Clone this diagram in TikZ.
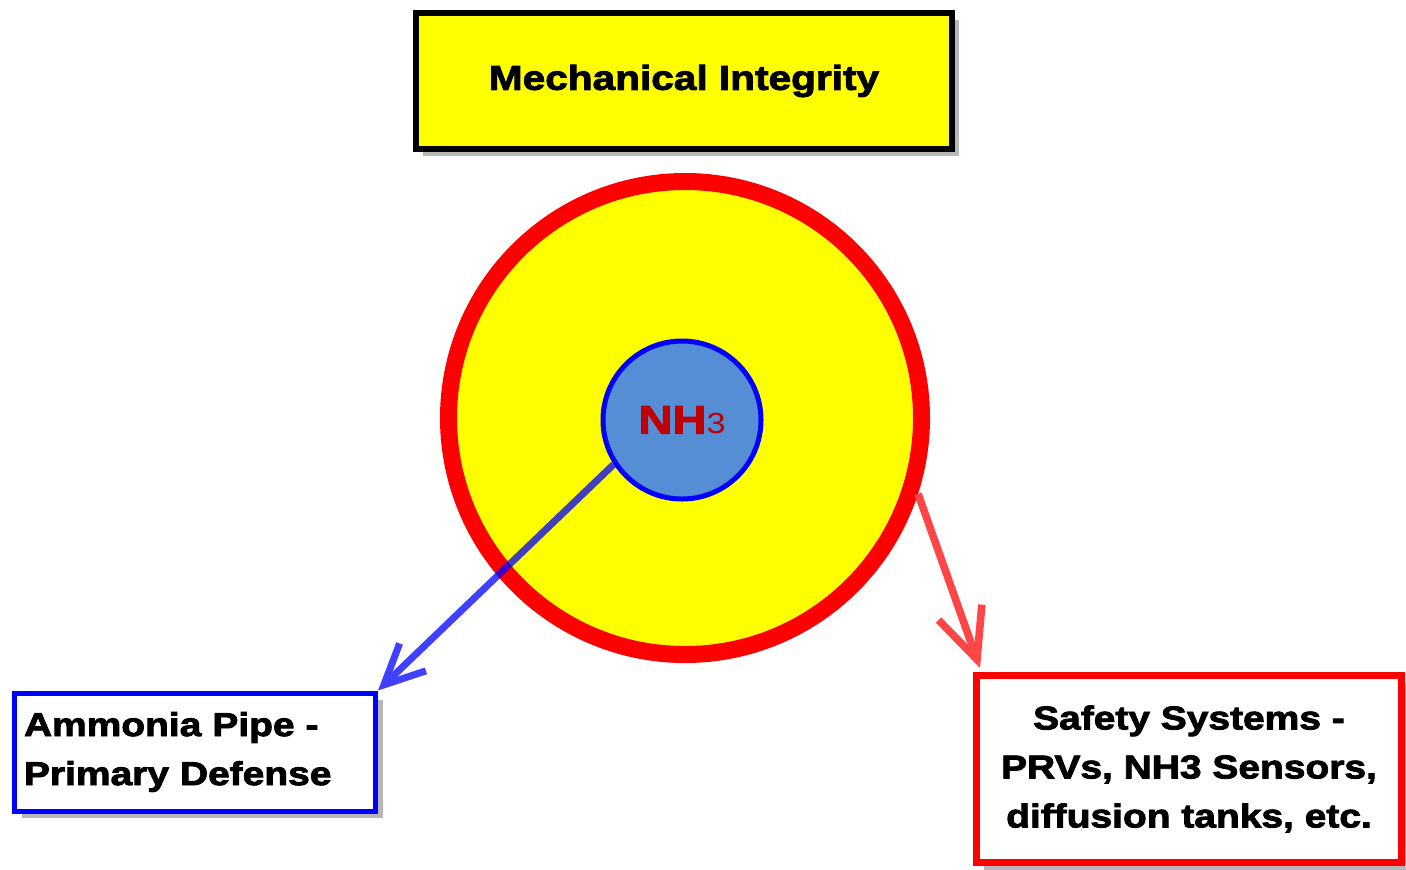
\documentclass[tikz,border=0pt]{standalone}
\usepackage{fontspec}
\newfontfamily\heavyfont{Liberation Sans}[FakeStretch=1.18,BoldFeatures={FakeBold=2.6}]
\usepackage{tikz}
\usetikzlibrary{arrows.meta,shadows}
\definecolor{coreblue}{RGB}{85,142,213}
\definecolor{nhred}{RGB}{192,0,0}
\definecolor{arrowred}{RGB}{255,70,70}
\definecolor{pureyellow}{RGB}{255,255,0}

\begin{document}
\begin{tikzpicture}[x=0.5pt, y=-0.5pt,
    boxshadow/.style={drop shadow={shadow xshift=3.5pt, shadow yshift=-3.5pt, opacity=0.4, fill=black!70}},
    labeltext/.style={font=\heavyfont\bfseries\fontsize{16.5}{24.5}\selectfont}]
    \useasboundingbox[fill=white] (0,0) rectangle (1406,869);

    \node[draw=black, line width=3pt, fill=pureyellow, minimum width=268pt, minimum height=68pt, boxshadow,
          font=\heavyfont\bfseries\fontsize{17.2}{21}\selectfont] (integrity) at (684,81) {Mechanical Integrity};

    \node[circle, draw=red, line width=8.5pt, fill=pureyellow, minimum size=236.5pt] (ring) at (685,418) {};
    \node[circle, draw=blue, line width=2.5pt, fill=coreblue, minimum size=79pt, inner sep=0pt, text=nhred] (core) at (682,420)
        {{\heavyfont\bfseries\fontsize{20}{24}\selectfont NH}{\heavyfont\fontsize{14.5}{18}\selectfont 3}};

    \node[draw=blue, line width=2.5pt, fill=white, minimum width=180.5pt, minimum height=59pt, text width=171pt,
          inner xsep=4.75pt, align=left, boxshadow, labeltext] (pipe) at (195,752) {Ammonia Pipe -\\Primary Defense};
    \node[draw=red, line width=3.5pt, fill=white, minimum width=212.5pt, minimum height=93.5pt,
          align=center, boxshadow, labeltext] (safety) at (1189,769) {Safety Systems -\\PRVs, NH3 Sensors,\\diffusion tanks, etc.};

    \begin{scope}[transparency group, opacity=0.75]
      \draw[blue, line width=3.5pt, -{Straight Barb[length=20pt,width=19pt]}] (core.213) -- (pipe.north east);
    \end{scope}
    \draw[arrowred, line width=3.8pt, -{Straight Barb[length=25pt,width=23pt]}] (ring.342) -- ([xshift=3.5pt,yshift=2pt]safety.north west);
\end{tikzpicture}
\end{document}
